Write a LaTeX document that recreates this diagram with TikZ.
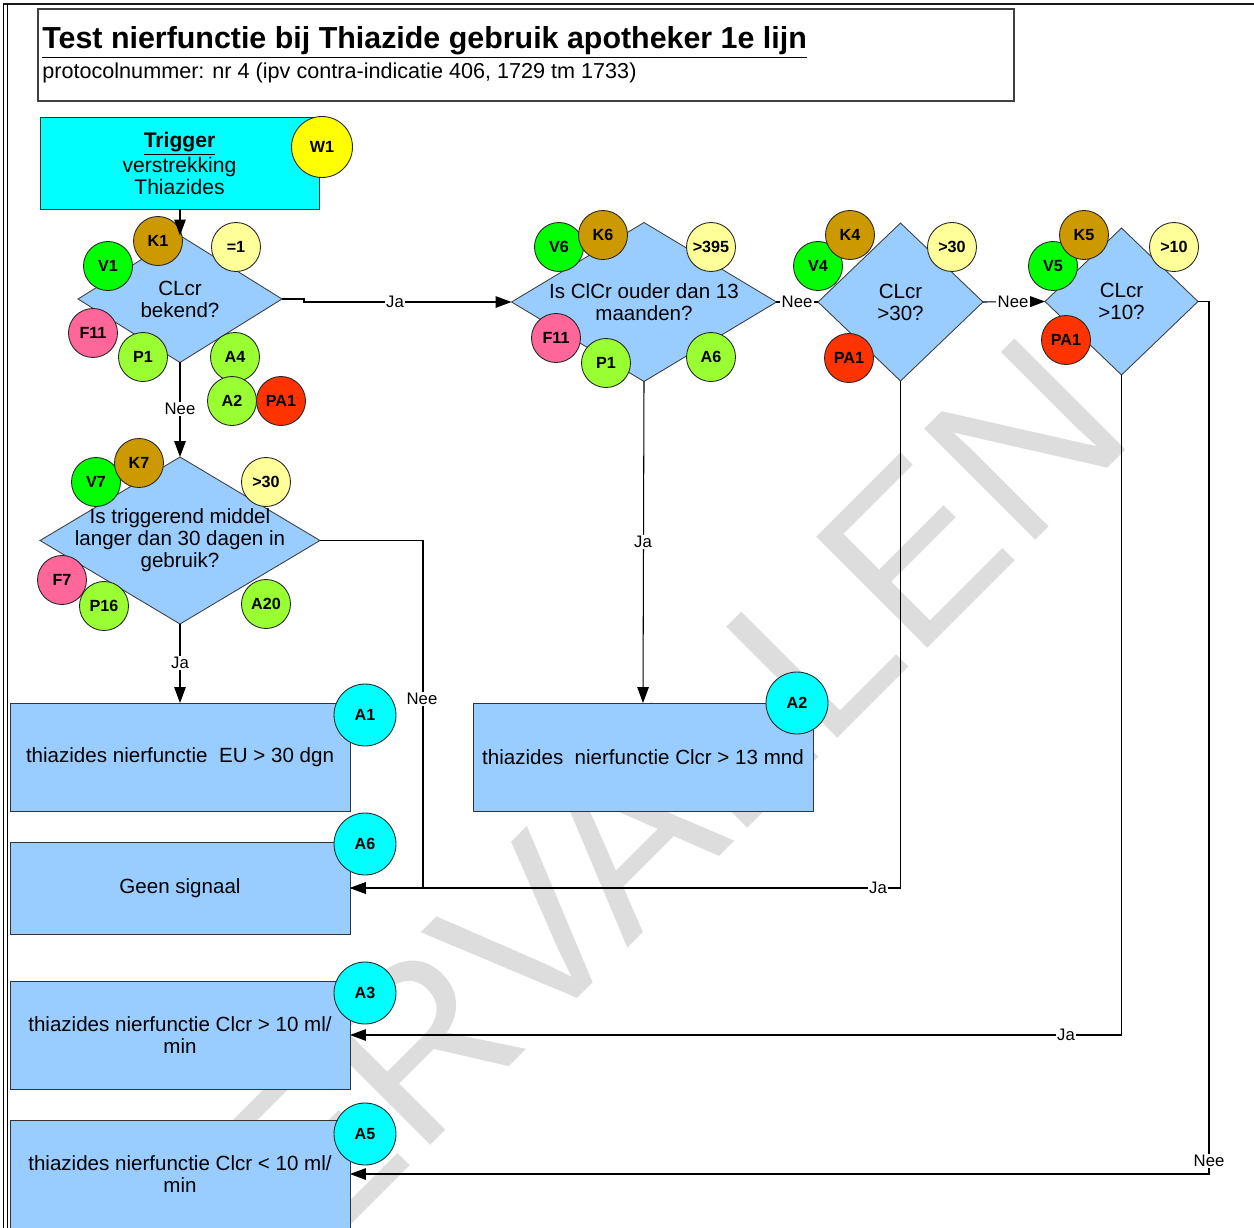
\documentclass[tikz,border=0pt]{standalone}
\usepackage{fontspec}
\setmainfont{Liberation Sans}
\usetikzlibrary{shapes.geometric,arrows.meta}
\definecolor{cyanbox}{HTML}{00FFFF}
\definecolor{dblue}{HTML}{99CCFF}
\definecolor{wyellow}{HTML}{FFFF00}
\definecolor{lyellow}{HTML}{FFFF99}
\definecolor{kbrown}{HTML}{CC9900}
\definecolor{vgreen}{HTML}{00FF00}
\definecolor{lgreen}{HTML}{99FF33}
\definecolor{fpink}{HTML}{FF6699}
\definecolor{pared}{HTML}{FF3300}
\definecolor{wmark}{HTML}{DDDDDD}
\begin{document}
\begin{tikzpicture}[x=0.02cm,y=-0.02cm,
  bodyfont/.style={font=\fontsize{11.7}{12.5}\selectfont},
  tag/.style={circle,draw=black!85,line width=0.5pt,inner sep=0pt,minimum size=0.98cm,font=\fontsize{9.2}{10}\selectfont\bfseries},
  bigtag/.style={tag,minimum size=1.24cm,fill=cyanbox},
  kt/.style={tag,fill=kbrown}, vt/.style={tag,fill=vgreen}, yt/.style={tag,fill=lyellow},
  ft/.style={tag,fill=fpink}, gt/.style={tag,fill=lgreen}, rt/.style={tag,fill=pared},
  dia/.style={diamond,draw=black!75,line width=0.5pt,fill=dblue,inner sep=0pt,outer sep=0pt},
  box/.style={rectangle,draw=black!80,line width=0.5pt,fill=dblue,inner sep=0pt,outer sep=0pt,minimum width=6.8cm,bodyfont,align=center},
  dtext/.style={bodyfont,align=center,inner sep=0pt},
  conn/.style={draw=black,line width=0.6pt},
  arr/.style={conn,-{Triangle[length=9pt,width=6.5pt]}},
  lab/.style={fill=white,inner sep=0.8pt,font=\fontsize{9.5}{10}\selectfont}
]
\useasboundingbox (0,0) rectangle (1254,1227);
\fill[white] (0,0) rectangle (1254,1227);
% watermark
\node[rotate=45,text=wmark,font=\fontsize{130}{130}\selectfont,inner sep=0pt] (wm) at (615,850) {VERVALLEN};
% outer frame
\draw[line width=1.3pt,black!90] (3,4) -- (1260,4);
\draw[line width=0.5pt] (3,4) -- (3,1232);
\draw[line width=0.5pt] (7,4) -- (7,1232);
% title box
\node[draw=black!75,line width=0.7pt,minimum width=19.52cm,minimum height=1.84cm,inner sep=0pt] (tbox) at (526,55) {};
\node[anchor=base west,inner sep=0pt,font=\fontsize{17.3}{20}\selectfont\bfseries] (title) at (42,48) {\underline{Test nierfunctie bij Thiazide gebruik apotheker 1e lijn}};
\node[anchor=base west,inner sep=0pt,font=\fontsize{12.3}{14}\selectfont] (subtitle) at (42,78) {protocolnummer: nr 4 (ipv contra-indicatie 406, 1729 tm 1733)};
% trigger
\node[draw=black!80,line width=0.5pt,fill=cyanbox,minimum width=5.58cm,minimum height=1.84cm,inner sep=0pt,align=center,font=\fontsize{12}{12.5}\selectfont] (trig) at (179.5,163) {\textbf{\underline{Trigger}}\\verstrekking\\Thiazides};
\node[tag,fill=wyellow,minimum size=1.22cm] (w1) at (322,147) {W1};
% diamonds
\node[dia,minimum width=4.08cm,minimum height=2.54cm] (d1) at (180,299) {};
\node[dtext] (d1t) at (d1.center) {CLcr\\bekend?};
\node[dia,minimum width=5.3cm,minimum height=3.18cm] (d2) at (644,302) {};
\node[dtext] (d2t) at (d2.center) {Is ClCr ouder dan 13\\maanden?};
\node[dia,minimum width=3.3cm,minimum height=3.16cm] (d3) at (900.5,302) {};
\node[dtext] (d3t) at (d3.center) {CLcr\\>30?};
\node[dia,minimum width=3.06cm,minimum height=2.94cm] (d4) at (1121.5,301.5) {};
\node[dtext] (d4t) at (d4.center) {CLcr\\>10?};
\node[dia,minimum width=5.6cm,minimum height=3.34cm] (d5) at (180,540.5) {};
\node[dtext] (d5t) at (d5.center) {Is triggerend middel\\langer dan 30 dagen in\\gebruik?};
% boxes
\node[box,minimum height=2.16cm] (bA1) at (180,757) {thiazides nierfunctie\ \ EU > 30 dgn};
\node[box,minimum height=1.84cm] (bGeen) at (180,888) {Geen signaal};
\node[box,minimum height=2.16cm] (bA3) at (180,1035) {thiazides nierfunctie Clcr > 10 ml/\\min};
\node[box,minimum height=2.16cm] (bA5) at (180,1174) {thiazides nierfunctie Clcr < 10 ml/\\min};
\node[box,minimum height=2.16cm] (bA2) at (643,757) {thiazides\ \ nierfunctie Clcr > 13 mnd};
% cyan tags
\node[bigtag] (cA1) at (365,715) {A1};
\node[bigtag] (cA6) at (365,844) {A6};
\node[bigtag] (cA3) at (365,993) {A3};
\node[bigtag] (cA5) at (365,1134) {A5};
\node[bigtag] (cA2) at (797,703) {A2};
% tags diamond 1
\node[kt] (k1) at (158,241) {K1};
\node[vt] (v1) at (108,266) {V1};
\node[yt] (e1) at (236,247) {=1};
\node[ft] (f11a) at (93,333) {F11};
\node[gt] (p1a) at (143,357) {P1};
\node[gt] (a4) at (235,357) {A4};
\node[gt] (a2) at (232,401) {A2};
\node[rt] (pa1a) at (281,401) {PA1};
% tags diamond 2
\node[vt] (v6) at (559,247) {V6};
\node[kt] (k6) at (603,235) {K6};
\node[yt] (g395) at (711,247) {>395};
\node[ft] (f11b) at (556,338) {F11};
\node[gt] (p1b) at (606,363) {P1};
\node[gt] (a6) at (711,357) {A6};
% tags diamond 3
\node[vt] (v4) at (818,266) {V4};
\node[kt] (k4) at (850,235) {K4};
\node[yt] (g30a) at (952,247) {>30};
\node[rt] (pa1b) at (849,358) {PA1};
% tags diamond 4
\node[vt] (v5) at (1053,266) {V5};
\node[kt] (k5) at (1084,235) {K5};
\node[yt] (g10) at (1174,247) {>10};
\node[rt] (pa1c) at (1066,340) {PA1};
% tags diamond 5
\node[vt] (v7) at (96,482) {V7};
\node[kt] (k7) at (139,463) {K7};
\node[yt] (g30b) at (266,482) {>30};
\node[ft] (f7) at (62,580) {F7};
\node[gt] (p16) at (104,606) {P16};
\node[gt] (a20) at (266,604) {A20};
% connectors
\coordinate (c5) at (423,540.5);
\draw[arr] (trig.south -| d1.north) -- (d1.north);
\draw[arr] (d1.east) -- ++(22,0) |- (d2.west);
\draw[arr] (d1.south) -- (d5.north);
\draw[conn] (d2.east) -- (d3.west);
\draw[arr] (d3.east) -- (d4.west);
\draw[arr] (d2.south) -- (bA2.north);
\draw[arr] (d5.south) -- (bA1.north);
\draw[arr] (d5.east) -- (c5) |- (bGeen.east);
\draw[arr] (d3.south) |- (bGeen.east);
\draw[arr] (d4.south) |- (bA3.east);
\draw[arr] (d4.east) -- ++(11,0) |- (bA5.east);
% connector labels
\node[lab] (l1) at (395,302) {Ja};
\node[lab] (l2) at (180,409) {Nee};
\node[lab] (l3) at (797,302) {Nee};
\node[lab] (l4) at (1013,302) {Nee};
\node[lab] (l5) at (643,542) {Ja};
\node[lab] (l6) at (180,663) {Ja};
\node[lab] (l7) at (422,699) {Nee};
\node[lab] (l8) at (878,888) {Ja};
\node[lab] (l9) at (1066,1035) {Ja};
\node[lab] (l10) at (1209,1161) {Nee};
\end{tikzpicture}
\end{document}
